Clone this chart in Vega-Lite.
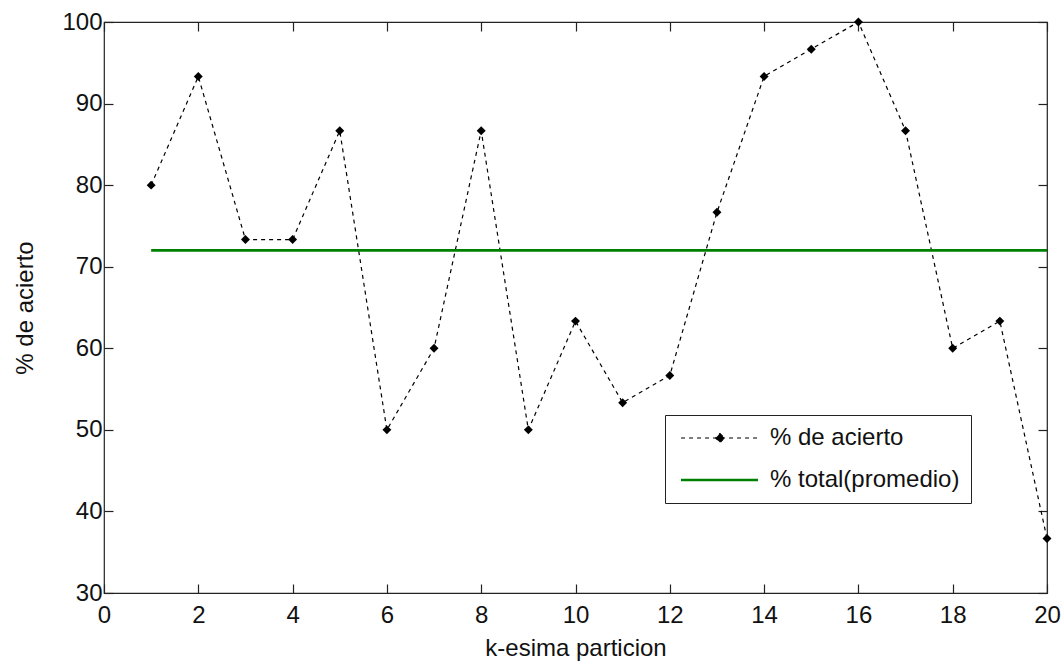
{
  "$schema": "https://vega.github.io/schema/vega-lite/v6.json",
  "width": 943,
  "height": 571,
  "autosize": {"type": "none"},
  "padding": {"left": 104, "top": 22, "right": 17, "bottom": 74},
  "background": "white",
  "config": {
    "font": "Liberation Sans",
    "view": {"stroke": "#222", "strokeWidth": 1.2},
    "axis": {
      "labelFont": "Liberation Sans",
      "labelFontSize": 24,
      "labelColor": "#111",
      "labelFlush": false,
      "labelOverlap": false,
      "titleFont": "Liberation Sans",
      "titleFontSize": 24,
      "titleFontWeight": "normal",
      "titleColor": "#111",
      "grid": false,
      "domain": false,
      "tickColor": "#222",
      "tickSize": -9,
      "tickWidth": 1.2
    }
  },
  "data": {
    "values": [
      {"k": 1, "pct": 80, "serie": "% de acierto"},
      {"k": 2, "pct": 93.33, "serie": "% de acierto"},
      {"k": 3, "pct": 73.33, "serie": "% de acierto"},
      {"k": 4, "pct": 73.33, "serie": "% de acierto"},
      {"k": 5, "pct": 86.67, "serie": "% de acierto"},
      {"k": 6, "pct": 50, "serie": "% de acierto"},
      {"k": 7, "pct": 60, "serie": "% de acierto"},
      {"k": 8, "pct": 86.67, "serie": "% de acierto"},
      {"k": 9, "pct": 50, "serie": "% de acierto"},
      {"k": 10, "pct": 63.33, "serie": "% de acierto"},
      {"k": 11, "pct": 53.33, "serie": "% de acierto"},
      {"k": 12, "pct": 56.67, "serie": "% de acierto"},
      {"k": 13, "pct": 76.67, "serie": "% de acierto"},
      {"k": 14, "pct": 93.33, "serie": "% de acierto"},
      {"k": 15, "pct": 96.67, "serie": "% de acierto"},
      {"k": 16, "pct": 100, "serie": "% de acierto"},
      {"k": 17, "pct": 86.67, "serie": "% de acierto"},
      {"k": 18, "pct": 60, "serie": "% de acierto"},
      {"k": 19, "pct": 63.33, "serie": "% de acierto"},
      {"k": 20, "pct": 36.67, "serie": "% de acierto"},
      {"k": 1, "pct": 72, "serie": "% total(promedio)"},
      {"k": 20, "pct": 72, "serie": "% total(promedio)"}
    ]
  },
  "layer": [
    {
      "mark": {"type": "line", "clip": false},
      "encoding": {
        "x": {
          "field": "k", "type": "quantitative",
          "scale": {"domain": [0, 20], "nice": false},
          "axis": {"values": [0,2,4,6,8,10,12,14,16,18,20], "title": "k-esima particion", "labelPadding": 19, "titlePadding": 9, "orient": "bottom"}
        },
        "y": {
          "field": "pct", "type": "quantitative",
          "scale": {"domain": [30, 100], "nice": false, "zero": false},
          "axis": {"values": [30,40,50,60,70,80,90,100], "title": "% de acierto", "labelPadding": 11, "titlePadding": 24, "orient": "left"}
        },
        "color": {
          "field": "serie", "type": "nominal",
          "scale": {"domain": ["% de acierto", "% total(promedio)"], "range": ["black", "#008000"]},
          "legend": {
            "title": null,
            "orient": "none",
            "legendX": 561,
            "legendY": 393,
            "strokeColor": "#222",
            "fillColor": "white",
            "padding": 11,
            "symbolType": "M-0.7,0H7",
            "symbolSize": 400,
            "symbolStrokeWidth": 1.2,
            "labelFont": "Liberation Sans",
            "labelFontSize": 24,
            "labelColor": "#111",
            "labelOffset": 70,
            "labelLimit": 0,
            "rowPadding": 18,
            "encode": {
              "symbols": {
                "update": {
                  "shape": {"signal": "datum.value == '% de acierto' ? 'M-0.7,0H7M3.2,-0.45L3.65,0L3.2,0.45L2.75,0Z' : 'M-0.7,0H7'"},
                  "fill": {"signal": "datum.value == '% de acierto' ? 'black' : 'transparent'"},
                  "strokeWidth": {"signal": "datum.value == '% de acierto' ? 1.2 : 2.7"}
                }
              }
            }
          }
        },
        "strokeDash": {
          "field": "serie", "type": "nominal",
          "scale": {"domain": ["% de acierto", "% total(promedio)"], "range": [[4, 4], [1, 0]]},
          "legend": null
        },
        "strokeWidth": {
          "field": "serie", "type": "nominal",
          "scale": {"domain": ["% de acierto", "% total(promedio)"], "range": [1.2, 2.7]},
          "legend": null
        }
      }
    },
    {
      "transform": [{"filter": "datum.serie == '% de acierto'"}],
      "mark": {"type": "point", "shape": "diamond", "filled": true, "color": "black", "size": 80, "opacity": 1, "clip": false},
      "encoding": {
        "x": {"field": "k", "type": "quantitative", "axis": {"orient": "top", "labels": false, "title": null, "values": [0,2,4,6,8,10,12,14,16,18,20]}},
        "y": {"field": "pct", "type": "quantitative", "axis": {"orient": "right", "labels": false, "title": null, "values": [30,40,50,60,70,80,90,100]}}
      }
    }
  ],
  "resolve": {"axis": {"x": "independent", "y": "independent"}}
}
